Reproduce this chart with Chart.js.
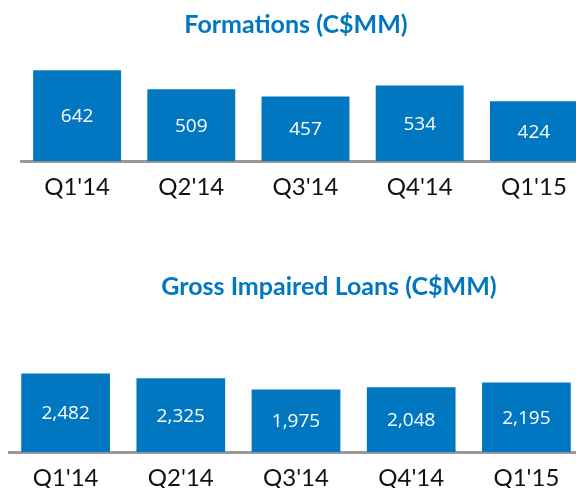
<!DOCTYPE html>
<html>
<head>
<meta charset="utf-8">
<script src="https://cdn.jsdelivr.net/npm/chart.js@4/dist/chart.umd.min.js"></script>
<style>
  html, body { margin: 0; padding: 0; background: #fff; }
  body { position: relative; width: 576px; height: 520px; }
  .box { position: absolute; }
  #top { left: 20px; top: 0px; width: 571px; height: 214px; }
  #bottom { left: 8px; top: 250px; width: 576px; height: 255px; }
</style>
</head>
<body>
<div class="box" id="top"><canvas id="formChart"></canvas></div>
<div class="box" id="bottom"><canvas id="gilChart"></canvas></div>
<script>
var quarters = ["Q1'14", "Q2'14", "Q3'14", "Q4'14", "Q1'15"];
var formations = [642, 509, 457, 534, 424];
var impairedLoans = [2482, 2325, 1975, 2048, 2195];

var blue = "#0077c0";

// draws the heading at a fixed x so it can sit off-centre like the original
var headline = {
  id: "headline",
  afterDraw(chart, args, opts) {
    var ctx = chart.ctx;
    ctx.save();
    ctx.font = "bold 25px Lato";
    ctx.fillStyle = blue;
    ctx.textAlign = "center";
    ctx.textBaseline = "middle";
    ctx.fillText(opts.text, opts.x, opts.y);
    ctx.restore();
  }
};

// value labels inside the bars
var barValues = {
  id: "barValues",
  afterDatasetsDraw(chart) {
    var ctx = chart.ctx;
    var meta = chart.getDatasetMeta(0);
    var vals = chart.data.datasets[0].data;
    ctx.save();
    ctx.font = "19px 'Open Sans'";
    ctx.fillStyle = "#ffffff";
    ctx.textAlign = "center";
    ctx.textBaseline = "middle";
    meta.data.forEach(function (bar, i) {
      ctx.fillText(vals[i].toLocaleString("en-US"), bar.x, (bar.y + bar.base) / 2 + 1);
    });
    ctx.restore();
  }
};

function makeChart(id, values, yMax, title, titleX, titleY, padTop, tickPad) {
  return new Chart(id, {
    type: "bar",
    data: {
      labels: quarters,
      datasets: [{
        data: values,
        backgroundColor: blue,
        borderWidth: 0,
        categoryPercentage: 1,
        barPercentage: 0.77
      }]
    },
    options: {
      responsive: true,
      maintainAspectRatio: false,
      animation: false,
      layout: { padding: { top: padTop, left: 0, right: 0, bottom: 0 } },
      plugins: {
        legend: { display: false },
        tooltip: { enabled: false },
        headline: { text: title, x: titleX, y: titleY }
      },
      scales: {
        x: {
          grid: { display: false, drawTicks: false },
          border: { display: true, color: "#999999", width: 3 },
          ticks: { color: "#111111", padding: tickPad, font: { family: "Lato", size: 24 } }
        },
        y: {
          display: false,
          min: 0,
          max: yMax
        }
      }
    },
    plugins: [headline, barValues]
  });
}

makeChart("formChart", formations, 750, "Formations (C$MM)", 276, 25, 55, 12);
makeChart("gilChart", impairedLoans, 4100, "Gross Impaired Loans (C$MM)", 321, 37, 72, 12);
</script>
</body>
</html>
